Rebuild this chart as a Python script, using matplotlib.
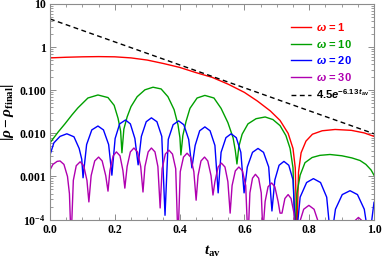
import matplotlib
matplotlib.use("Agg")
import matplotlib.pyplot as plt
from matplotlib.ticker import FixedLocator, NullFormatter
import numpy as np

# values (x = t_av, y = log10|rho - rho_final|)
w1_x = [0.0, 0.05, 0.10, 0.15, 0.20, 0.25, 0.30, 0.35, 0.40, 0.45, 0.50, 0.55,
        0.60, 0.64, 0.68, 0.71, 0.735, 0.75, 0.757, 0.762, 0.767, 0.775, 0.79,
        0.81, 0.84, 0.88, 0.93, 0.97, 1.0]
w1_log = [-0.25, -0.235, -0.225, -0.22, -0.225, -0.25, -0.30, -0.38, -0.47, -0.59,
          -0.70, -0.86, -1.05, -1.25, -1.48, -1.70, -2.0, -2.35, -2.8, -4.3, -2.9,
          -2.45, -2.18, -2.02, -1.94, -1.91, -1.93, -1.99, -2.07]

w10_x = [0.0, 0.025, 0.046, 0.068, 0.086, 0.117, 0.148, 0.179, 0.198, 0.210, 0.218,
         0.222, 0.228, 0.238, 0.250, 0.269, 0.293, 0.318, 0.343, 0.364, 0.383, 0.395,
         0.401, 0.404, 0.410, 0.420, 0.432, 0.454, 0.478, 0.506, 0.528, 0.549, 0.565,
         0.572, 0.577, 0.583, 0.593, 0.611, 0.636, 0.664, 0.688, 0.710, 0.728, 0.741,
         0.750, 0.756, 0.762, 0.772, 0.787, 0.809, 0.833, 0.864, 0.901, 0.932, 0.957,
         0.975, 0.991, 1.0]
w10_log = [-2.22, -1.97, -1.78, -1.57, -1.41, -1.18, -1.11, -1.17, -1.35, -1.65, -1.95,
           -2.45, -1.9, -1.62, -1.38, -1.15, -0.99, -0.93, -0.97, -1.15, -1.45, -1.8,
           -2.1, -2.5, -2.05, -1.72, -1.42, -1.18, -1.12, -1.18, -1.42, -1.75, -2.1,
           -2.4, -2.71, -2.3, -2.02, -1.78, -1.66, -1.62, -1.68, -1.82, -2.05, -2.35,
           -2.8, -4.3, -3.4, -2.97, -2.68, -2.56, -2.51, -2.49, -2.52, -2.57, -2.63,
           -2.72, -2.85, -2.97]

w20_x = [0.0, 0.012, 0.031, 0.052, 0.074, 0.090, 0.098, 0.102,
         0.113, 0.129, 0.148, 0.165, 0.181, 0.191,
         0.201, 0.215, 0.233, 0.248, 0.262, 0.272,
         0.282, 0.297, 0.313, 0.330, 0.345, 0.355,
         0.365, 0.380, 0.397, 0.413, 0.428, 0.438,
         0.448, 0.462, 0.478, 0.494, 0.509, 0.519,
         0.528, 0.543, 0.559, 0.575, 0.589, 0.599,
         0.609, 0.625, 0.642, 0.659, 0.675, 0.685,
         0.694, 0.707, 0.722, 0.737, 0.750, 0.759,
         0.772, 0.792, 0.813, 0.835, 0.854, 0.867,
         0.881, 0.902, 0.926, 0.949, 0.970, 0.985, 1.0]
w20_log = [-2.50, -2.22, -2.07, -2.01, -2.08, -2.35, -2.6, -3.03,
           -2.26, -1.92, -1.83, -1.92, -2.26, -2.97,
           -2.12, -1.78, -1.69, -1.78, -2.12, -2.73,
           -2.07, -1.73, -1.64, -1.73, -2.07, -3.9,
           -2.14, -1.80, -1.71, -1.80, -2.14, -2.80,
           -2.28, -1.94, -1.85, -1.94, -2.28, -3.38,
           -2.44, -2.10, -2.01, -2.10, -2.44, -3.38,
           -2.78, -2.44, -2.35, -2.44, -2.78, -3.8,
           -3.08, -2.74, -2.65, -2.74, -3.08, -4.5,
           -3.48, -3.14, -3.05, -3.14, -3.48, -4.5,
           -3.76, -3.42, -3.33, -3.42, -3.76, -4.5, -3.6]

w30_x = [0.0, 0.009, 0.022, 0.031, 0.043, 0.054, 0.060, 0.065,
         0.072, 0.081, 0.093, 0.104, 0.114, 0.120,
         0.127, 0.138, 0.150, 0.161, 0.172, 0.179,
         0.185, 0.195, 0.205, 0.216, 0.225, 0.231,
         0.238, 0.248, 0.259, 0.270, 0.280, 0.287,
         0.293, 0.303, 0.313, 0.324, 0.333, 0.340,
         0.346, 0.356, 0.367, 0.378, 0.388, 0.395,
         0.402, 0.412, 0.423, 0.434, 0.444, 0.451,
         0.457, 0.466, 0.477, 0.487, 0.497, 0.503,
         0.509, 0.519, 0.529, 0.540, 0.549, 0.556,
         0.562, 0.572, 0.583, 0.594, 0.604, 0.611,
         0.617, 0.625, 0.634, 0.644, 0.652, 0.657,
         0.664, 0.673, 0.684, 0.694, 0.704, 0.710,
         0.716, 0.725, 0.735, 0.744, 0.753, 0.759,
         0.769, 0.783, 0.799, 0.815, 0.830, 0.840,
         0.880, 0.920, 0.939, 0.952, 0.965, 0.985, 1.0]
w30_log = [-2.85, -2.72, -2.65, -2.64, -2.72, -3.0, -3.4, -4.5,
           -3.09, -2.75, -2.66, -2.75, -3.09, -3.59,
           -2.98, -2.64, -2.55, -2.64, -2.98, -3.34,
           -2.86, -2.52, -2.43, -2.52, -2.86, -3.27,
           -2.77, -2.43, -2.34, -2.43, -2.77, -3.36,
           -2.77, -2.43, -2.34, -2.43, -2.77, -3.73,
           -2.82, -2.48, -2.39, -2.48, -2.82, -4.5,
           -2.89, -2.55, -2.46, -2.55, -2.89, -3.55,
           -2.98, -2.64, -2.55, -2.64, -2.98, -3.43,
           -3.12, -2.78, -2.69, -2.78, -3.12, -3.85,
           -3.21, -2.87, -2.78, -2.87, -3.21, -4.5,
           -3.38, -3.04, -2.95, -3.04, -3.38, -4.3,
           -3.58, -3.24, -3.15, -3.24, -3.58, -3.85,
           -3.85, -3.51, -3.42, -3.51, -3.85, -4.5,
           -4.1, -3.76, -3.67, -3.76, -4.1, -4.5,
           -4.35, -4.5, -4.04, -3.95, -4.04, -4.5, -4.3]

fit_x = [0.0, 1.0]
fit_y = [4.5, 0.0098]

labels = [r"$\mathsf{\omega}$ = 1", r"$\mathsf{\omega}$ = 10",
          r"$\mathsf{\omega}$ = 20", r"$\mathsf{\omega}$ = 30",
          r"4.5$\mathsf{e}^{\mathbf{-6.13}\,\mathsf{t}_{\mathbf{av}}}$"]
colors = ["#ff0000", "#00a000", "#0000ff", "#b000b0", "black"]

ytick_vals = [1e-4, 1e-3, 1e-2, 1e-1, 1, 10]
ytick_labels = [r"$\mathrm{10^{-4}}$", "0.001", "0.010", "0.100", "1", "10"]
xtick_vals = [0.0, 0.2, 0.4, 0.6, 0.8, 1.0]
xtick_labels = ["0.0", "0.2", "0.4", "0.6", "0.8", "1.0"]

plt.rcParams["mathtext.fontset"] = "custom"
plt.rcParams["mathtext.rm"] = "Liberation Serif:bold"
plt.rcParams["mathtext.it"] = "Liberation Serif:bold:italic"
plt.rcParams["mathtext.bf"] = "Liberation Sans:bold"
plt.rcParams["mathtext.sf"] = "Liberation Sans:bold:italic"

fig = plt.figure(figsize=(3.82, 2.59), dpi=100)
ax = fig.add_axes([50 / 382, 1 - 219.6 / 259, 324 / 382, 215.6 / 259])

series = [(w1_x, w1_log), (w10_x, w10_log), (w20_x, w20_log), (w30_x, w30_log)]
for (xs, ls), c, lab in zip(series, colors[:4], labels[:4]):
    ax.plot(xs, 10.0 ** np.array(ls), color=c, lw=1.0, label=lab)
ax.plot(fit_x, fit_y, color="black", lw=1.0, ls=(0, (3.5, 2.5)), label=labels[4])

ax.set_yscale("log")
ax.set_xlim(0, 1)
ax.set_ylim(1e-4, 10)

ax.set_yticks(ytick_vals)
ax.set_yticklabels(ytick_labels)
ax.yaxis.set_minor_locator(FixedLocator(
    [m * 10.0 ** e for e in range(-4, 1) for m in range(2, 10)]))
ax.yaxis.set_minor_formatter(NullFormatter())
ax.set_xticks(xtick_vals)
ax.set_xticklabels(xtick_labels)
ax.set_xticks(np.arange(0, 1.0001, 0.05), minor=True)

frame_col = "#8c8c8c"
for sp in ax.spines.values():
    sp.set_color(frame_col)
    sp.set_linewidth(0.8)
ax.tick_params(which="both", direction="in", top=True, right=True, color=frame_col)
ax.tick_params(which="major", length=4.5, width=0.7, pad=3)
ax.tick_params(which="minor", length=2.5, width=0.6)
for t in ax.get_xticklabels() + ax.get_yticklabels():
    t.set_fontfamily("Liberation Serif")
    t.set_fontweight("bold")
    t.set_fontsize(8.5)

ax.set_ylabel(r"$|\rho-\rho_{\mathrm{final}}|$", fontsize=11, labelpad=2)
ax.set_xlabel(r"$t_{\mathrm{av}}$", fontsize=11, labelpad=6)

leg = ax.legend(loc="upper left", bbox_to_anchor=(0.745, 0.921), frameon=False,
                handlelength=1.8, handletextpad=0.45, labelspacing=0.42,
                borderpad=0, borderaxespad=0,
                prop={"family": "Liberation Sans", "weight": "bold", "size": 8})
for txt, c in zip(leg.get_texts(), colors):
    txt.set_color(c)

plt.savefig("out.png", dpi=100)
